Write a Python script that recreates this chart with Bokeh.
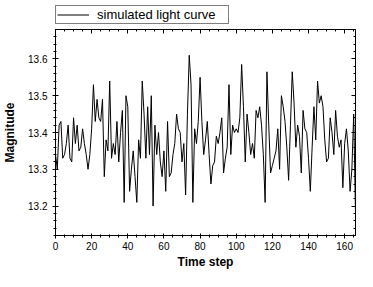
from bokeh.plotting import figure
from bokeh.layouts import column
from bokeh.models import (Range1d, SingleIntervalTicker, LinearAxis, Legend, LegendItem,
                          CustomJSTickFormatter)
from bokeh.embed import file_html
from bokeh.resources import INLINE

magnitude = [
    13.34, 13.30, 13.42, 13.43, 13.33, 13.34, 13.37, 13.42, 13.33, 13.32,
    13.44, 13.37, 13.42, 13.35, 13.36, 13.41, 13.37, 13.34, 13.30, 13.34,
    13.41, 13.53, 13.43, 13.49, 13.44, 13.43, 13.49, 13.28, 13.38, 13.35,
    13.54, 13.33, 13.37, 13.34, 13.43, 13.32, 13.40, 13.46, 13.21, 13.50,
    13.47, 13.24, 13.30, 13.35, 13.28, 13.21, 13.38, 13.33, 13.54, 13.45,
    13.33, 13.47, 13.34, 13.50, 13.20, 13.42, 13.34, 13.40, 13.32, 13.28,
    13.35, 13.24, 13.43, 13.28, 13.29, 13.34, 13.37, 13.45, 13.41, 13.40,
    13.32, 13.37, 13.23, 13.45, 13.61, 13.53, 13.21, 13.41, 13.37, 13.43,
    13.55, 13.43, 13.34, 13.38, 13.43, 13.34, 13.26, 13.31, 13.32, 13.39,
    13.37, 13.40, 13.44, 13.29, 13.33, 13.36, 13.53, 13.34, 13.42, 13.40,
    13.41, 13.40, 13.44, 13.585, 13.47, 13.32, 13.45, 13.40, 13.34, 13.37,
    13.33, 13.46, 13.44, 13.47, 13.42, 13.34, 13.21, 13.565, 13.42, 13.29,
    13.31, 13.33, 13.35, 13.41, 13.30, 13.50, 13.47, 13.43, 13.36, 13.27,
    13.42, 13.565, 13.48, 13.36, 13.42, 13.39, 13.29, 13.46, 13.41, 13.40,
    13.33, 13.24, 13.36, 13.47, 13.38, 13.54, 13.48, 13.50, 13.47, 13.38,
    13.32, 13.33, 13.44, 13.40, 13.34, 13.46, 13.39, 13.36, 13.38, 13.25,
    13.37, 13.41, 13.35, 13.24, 13.30, 13.45, 13.18,
]
time_step = list(range(len(magnitude)))

x_label = "Time step"
y_label = "Magnitude"
series_name = "simulated light curve"

FONT = "Liberation Sans"
LEG_H = 24
LEFT = 54

# ---- legend strip above the plot (same series, drawn out of view) ----
lf = figure(width=357, height=LEG_H, output_backend="svg", toolbar_location=None,
            x_range=Range1d(0, 166), y_range=Range1d(0, 1),
            x_axis_type=None, y_axis_type=None,
            min_border_left=LEFT, min_border_right=2, min_border_top=0, min_border_bottom=0)
lf.grid.visible = False
lf.outline_line_color = None
lf.background_fill_color = "white"
lf.border_fill_color = "white"
lr = lf.line(time_step, magnitude, line_color="black", line_width=1)
legend = Legend(items=[LegendItem(label=series_name, renderers=[lr])],
                location="bottom_left", orientation="vertical")
legend.margin = 0
legend.padding = 1
legend.spacing = 0
legend.glyph_width = 32
legend.glyph_height = 13
legend.label_height = 13
legend.label_width = 130
legend.label_standoff = 8
legend.label_text_font = FONT
legend.label_text_font_size = "13px"
legend.label_text_color = "black"
legend.border_line_color = "black"
legend.border_line_width = 1
legend.background_fill_color = "white"
legend.background_fill_alpha = 1
lf.add_layout(legend, "center")

# ---- main plot ----
p = figure(width=357, height=271 - LEG_H, output_backend="svg", toolbar_location=None,
           x_range=Range1d(0, 166), y_range=Range1d(13.12, 13.68),
           min_border_left=LEFT, min_border_right=2, min_border_top=5, min_border_bottom=28)
p.grid.visible = False
p.outline_line_color = "black"
p.outline_line_width = 1
p.background_fill_color = "white"
p.border_fill_color = "white"

p.line(time_step, magnitude, line_color="black", line_width=1)

def style(ax):
    ax.axis_line_color = "black"
    ax.major_tick_line_color = "black"
    ax.minor_tick_line_color = "black"
    ax.major_label_text_font = FONT
    ax.major_label_text_font_size = "10px"
    ax.major_label_text_color = "black"
    ax.axis_label_text_font = FONT
    ax.axis_label_text_font_size = "12px"
    ax.axis_label_text_font_style = "bold"
    ax.axis_label_text_color = "black"

xa = p.xaxis[0]
xa.ticker = SingleIntervalTicker(interval=20, num_minor_ticks=4)
style(xa)
xa.axis_label = x_label
xa.major_tick_in = 2
xa.major_tick_out = 3
xa.minor_tick_in = 1
xa.minor_tick_out = 2
xa.major_label_standoff = 3
xa.axis_label_standoff = 2

ya = p.yaxis[0]
ya.ticker = SingleIntervalTicker(interval=0.1, num_minor_ticks=5)
style(ya)
ya.axis_label = y_label
ya.major_tick_in = 3
ya.major_tick_out = 3
ya.minor_tick_in = 1
ya.minor_tick_out = 2
ya.major_label_standoff = 5
ya.axis_label_standoff = 8

blank = CustomJSTickFormatter(code="return ''")
top = LinearAxis(ticker=SingleIntervalTicker(interval=20, num_minor_ticks=4), formatter=blank)
style(top)
top.major_tick_in = 4
top.major_tick_out = 0
top.minor_tick_in = 2
top.minor_tick_out = 0
top.major_label_standoff = 0
top.major_label_text_font_size = "0px"
p.add_layout(top, "above")

right = LinearAxis(ticker=SingleIntervalTicker(interval=0.1, num_minor_ticks=5), formatter=blank)
style(right)
right.major_tick_in = 4
right.major_tick_out = 0
right.minor_tick_in = 2
right.minor_tick_out = 0
right.major_label_standoff = 0
right.major_label_text_font_size = "0px"
p.add_layout(right, "right")

layout = column(lf, p, spacing=0)
open("out.html", "w").write(file_html(layout, INLINE))
